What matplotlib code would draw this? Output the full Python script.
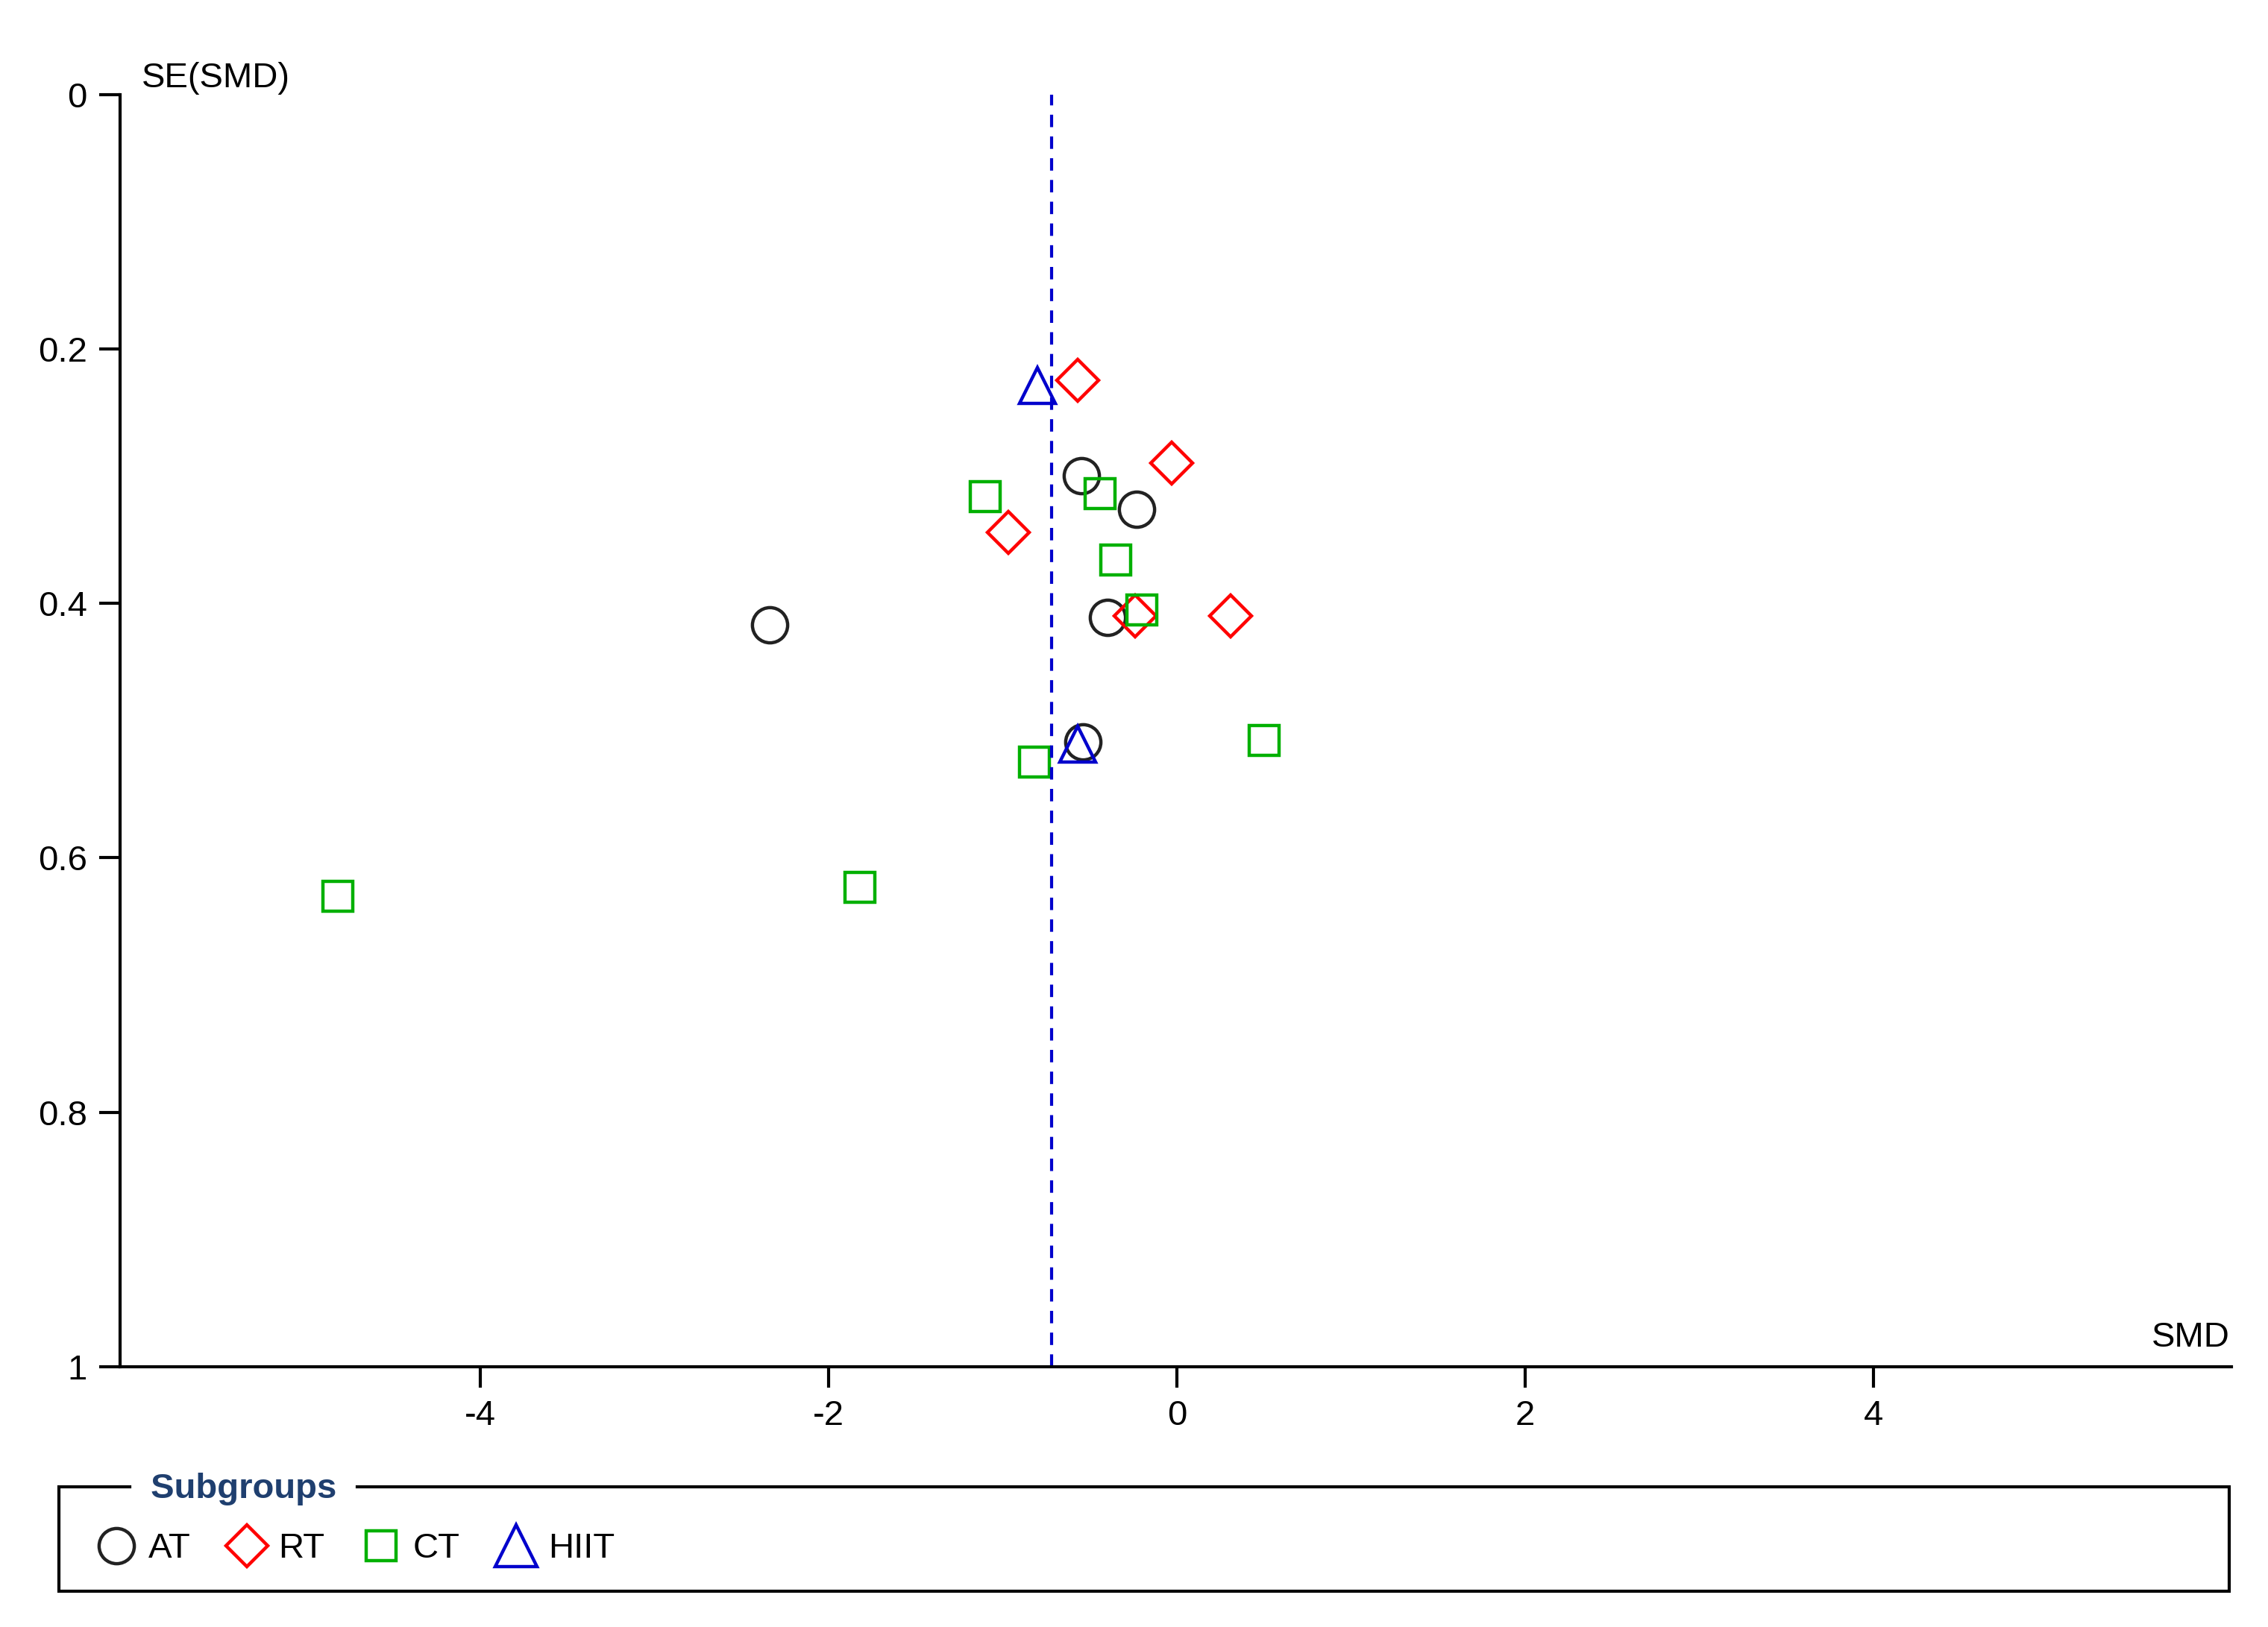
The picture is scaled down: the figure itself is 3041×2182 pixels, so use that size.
import matplotlib
matplotlib.use("Agg")
import matplotlib.pyplot as plt
from matplotlib.patches import Rectangle
from matplotlib.lines import Line2D

# subgroup data: SMD and SE(SMD)
at_smd = [-2.34, -0.55, -0.23, -0.40, -0.54]
at_se = [0.417, 0.300, 0.326, 0.411, 0.509]
rt_smd = [-0.57, -0.03, -0.97, -0.24, 0.31]
rt_se = [0.225, 0.290, 0.344, 0.410, 0.410]
ct_smd = [-1.10, -0.44, -0.35, -0.20, 0.50, -0.82, -1.82, -4.82]
ct_se = [0.316, 0.314, 0.366, 0.405, 0.508, 0.525, 0.623, 0.630]
hiit_smd = [-0.80, -0.57]
hiit_se = [0.229, 0.511]
pooled_smd = -0.72

plt.rcParams["font.family"] = ["Liberation Sans", "DejaVu Sans"]

fig = plt.figure(figsize=(15.205, 10.91), dpi=200)
ax = fig.add_axes([0.053, 0.160, 0.931, 0.782])

ms = 17
mew = 1.6
ax.plot(at_smd, at_se, "o", ms=ms, mfc="none", mec="#222222", mew=mew, clip_on=False)
ax.plot(rt_smd, rt_se, "D", ms=ms * 0.85, mfc="none", mec="#ff0000", mew=mew, clip_on=False)
ax.plot(ct_smd, ct_se, "s", ms=ms * 0.85, mfc="none", mec="#00b000", mew=mew, clip_on=False)
ax.plot(hiit_smd, hiit_se, "^", ms=ms, mfc="none", mec="#0000cc", mew=mew, clip_on=False)
ax.axvline(pooled_smd, color="#0000cc", ls=(0, (4, 3)), lw=1.5)

ax.set_xlim(-6.07, 6.06)
ax.set_ylim(1, 0)
ax.set_xticks([-4, -2, 0, 2, 4])
ax.set_xticklabels(["-4", "-2", "0", "2", "4"])
ax.set_yticks([0, 0.2, 0.4, 0.6, 0.8, 1])
ax.set_yticklabels(["0", "0.2", "0.4", "0.6", "0.8", "1"])
ax.spines["top"].set_visible(False)
ax.spines["right"].set_visible(False)
for s in ["left", "bottom"]:
    ax.spines[s].set_linewidth(1.5)
ax.tick_params(direction="out", length=10, width=1.5, labelsize=17, pad=6)
ax.text(0.01, 1.0, "SE(SMD)", transform=ax.transAxes, fontsize=17, va="bottom", ha="left")
ax.text(0.999, 0.01, "SMD", transform=ax.transAxes, fontsize=17, va="bottom", ha="right")

# legend box
fig.patches.append(Rectangle((0.026, 0.022), 0.957, 0.064, transform=fig.transFigure,
                             fill=False, lw=1.5, ec="black"))
fig.text(0.062, 0.085, " Subgroups ", fontsize=17, fontweight="bold", color="#1f3f6f",
         va="center", ha="left", backgroundcolor="white")
handles = [
    Line2D([], [], ls="none", marker="o", ms=ms, mfc="none", mec="#222222", mew=mew),
    Line2D([], [], ls="none", marker="D", ms=ms * 0.85, mfc="none", mec="#ff0000", mew=mew),
    Line2D([], [], ls="none", marker="s", ms=ms * 0.85, mfc="none", mec="#00b000", mew=mew),
    Line2D([], [], ls="none", marker="^", ms=ms * 1.2, mfc="none", mec="#0000cc", mew=mew),
]
fig.legend(handles, ["AT", "RT", "CT", "HIIT"], loc="center left", bbox_to_anchor=(0.028, 0.048),
           ncol=4, frameon=False, fontsize=17, handletextpad=0.3, columnspacing=1.0,
           handlelength=1.2)

fig.savefig("out.png", dpi=200)
